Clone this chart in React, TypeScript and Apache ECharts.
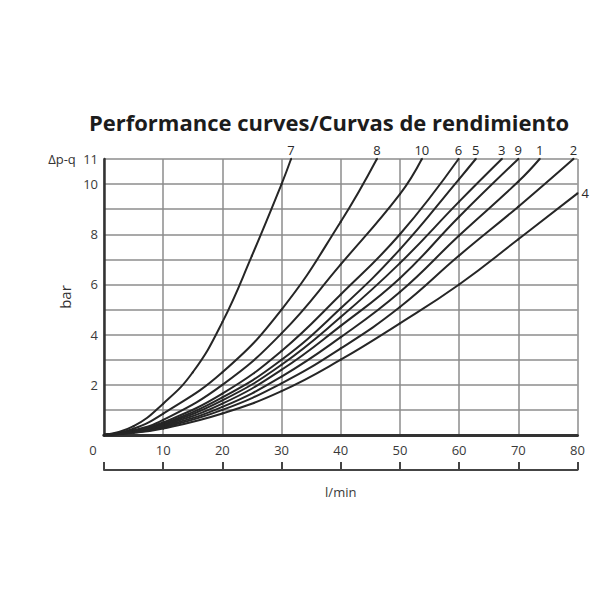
import React, { useEffect, useRef } from "react";
import * as echarts from "echarts";

// Curve identifiers (as printed at the curve ends)
const curveNames = ["7", "8", "10", "6", "5", "3", "9", "1", "2", "4"];

// Flow (l/min) vs pressure drop (bar)
const curve7 = [[0, 0], [5, 0.35], [10, 1.25], [15, 2.5], [20, 4.5], [25, 7.15], [30, 10], [31.6, 11]];
const curve8 = [[0, 0], [5, 0.25], [10, 0.85], [20, 2.5], [30, 5.0], [40, 8.5], [46.1, 11]];
const curve10 = [[0, 0], [5, 0.18], [10, 0.6], [20, 2.0], [30, 4.05], [40, 6.8], [50, 9.6], [53.7, 11]];
const curve6 = [[0, 0], [5, 0.16], [10, 0.5], [20, 1.65], [30, 3.35], [40, 5.6], [50, 8.0], [59.9, 11]];
const curve5 = [[0, 0], [5, 0.15], [10, 0.45], [20, 1.5], [30, 3.0], [40, 5.05], [50, 7.4], [60, 10.2], [62.8, 11]];
const curve3 = [[0, 0], [5, 0.14], [10, 0.42], [20, 1.38], [30, 2.8], [40, 4.7], [50, 6.85], [60, 9.3], [67.2, 11]];
const curve9 = [[0, 0], [5, 0.13], [10, 0.38], [20, 1.25], [30, 2.6], [40, 4.35], [50, 6.25], [60, 8.7], [70, 11]];
const curve1 = [[0, 0], [5, 0.12], [10, 0.34], [20, 1.12], [30, 2.33], [40, 3.9], [50, 5.7], [60, 7.95], [70, 10.1], [73.6, 11]];
const curve2 = [[0, 0], [5, 0.1], [10, 0.3], [20, 1.0], [30, 2.06], [40, 3.45], [50, 5.1], [60, 7.15], [70, 9.1], [79.3, 11]];
const curve4 = [[0, 0], [5, 0.09], [10, 0.26], [20, 0.86], [30, 1.75], [40, 3.0], [50, 4.45], [60, 6.0], [70, 7.8], [80, 9.63]];

const curves = [curve7, curve8, curve10, curve6, curve5, curve3, curve9, curve1, curve2, curve4];

// Axis ticks
const xMin = 0;
const xMax = 80;
const xStep = 10;
const yMin = 0;
const yMax = 11;
const yStep = 1;
const yLabelValues = [2, 4, 6, 8, 10, 11];

const titleText = "Performance curves/Curvas de rendimiento";
const yUnitTop = "Δp-q";
const yName = "bar";
const xName = "l/min";

const FONT = '"Open Sans", "Noto Sans", sans-serif';
const LINE = "#262626";

export default function App() {
  const ref = useRef<HTMLDivElement>(null);

  useEffect(() => {
    document.body.style.margin = "0";
    if (!ref.current) return;
    const chart = echarts.init(ref.current, undefined, { renderer: "svg" });

    const series = curves.map((pts, i) => {
      const name = curveNames[i];
      const last = pts.length - 1;
      const isRight = pts[last][0] >= xMax && pts[last][1] < yMax;
      return {
        type: "line",
        name,
        smooth: 0.45,
        showSymbol: true,
        symbol: "circle",
        symbolSize: 2,
        clip: false,
        lineStyle: { color: LINE, width: 2 },
        itemStyle: { color: LINE },
        label: { show: false },
        data: pts.map((p, j) =>
          j === last
            ? {
                value: p,
                label: {
                  show: true,
                  position: isRight ? "right" : "top",
                  distance: isRight ? 3 : 2,
                  formatter: name,
                  color: "#2a2a2a",
                  fontSize: 13,
                  fontFamily: FONT,
                },
              }
            : { value: p }
        ),
      };
    });

    chart.setOption({
      animation: false,
      backgroundColor: "#ffffff",
      grid: { left: 104, right: 22.5, top: 159, bottom: 165, containLabel: false },
      graphic: [
        {
          type: "text",
          x: 62,
          y: 159,
          style: {
            text: yUnitTop,
            align: "center",
            verticalAlign: "middle",
            font: `13px ${FONT}`,
            fill: "#333333",
          },
        },
        {
          type: "text",
          x: 329,
          y: 122,
          style: {
            text: titleText,
            align: "center",
            verticalAlign: "middle",
            font: `bold 22px ${FONT}`,
            fill: "#1c1c1c",
          },
        },
      ],
      xAxis: [
        {
          type: "value",
          min: xMin,
          max: xMax,
          interval: xStep,
          axisLine: { show: true, onZero: false, lineStyle: { color: "#333333", width: 3 } },
          axisTick: { show: false },
          splitLine: { show: true, lineStyle: { color: "#8c8c8c", width: 1.5 } },
          axisLabel: {
            margin: 8,
            color: "#3a3a3a",
            fontSize: 13,
            fontFamily: FONT,
            formatter: (v: number) => (v === 0 ? "{z|0}" : String(v)),
            rich: { z: { padding: [0, 22, 0, 0], fontSize: 13, color: "#3a3a3a", fontFamily: FONT } },
          },
        },
        {
          type: "value",
          min: xMin,
          max: xMax,
          interval: xStep,
          position: "bottom",
          offset: 35,
          axisLine: { show: true, onZero: false, lineStyle: { color: "#444444", width: 2 } },
          axisTick: { show: true, inside: true, length: 8, lineStyle: { color: "#444444", width: 2 } },
          axisLabel: { show: false },
          splitLine: { show: false },
          name: xName,
          nameLocation: "middle",
          nameGap: 15,
          nameTextStyle: { color: "#3a3a3a", fontSize: 13, fontFamily: FONT },
        },
      ],
      yAxis: {
        type: "value",
        min: yMin,
        max: yMax,
        interval: yStep,
        axisLine: { show: true, onZero: false, lineStyle: { color: "#333333", width: 2.5 } },
        axisTick: { show: false },
        splitLine: { show: true, lineStyle: { color: "#8c8c8c", width: 1.5 } },
        axisLabel: {
          margin: 6,
          color: "#3a3a3a",
          fontSize: 13,
          fontFamily: FONT,
          formatter: (v: number) => (yLabelValues.includes(v) ? String(v) : ""),
        },
        name: yName,
        nameLocation: "middle",
        nameGap: 26,
        nameRotate: 90,
        nameTextStyle: { color: "#333333", fontSize: 15, fontFamily: FONT },
      },
      series,
    });

    return () => chart.dispose();
  }, []);

  return <div ref={ref} style={{ width: 600, height: 600 }} />;
}
